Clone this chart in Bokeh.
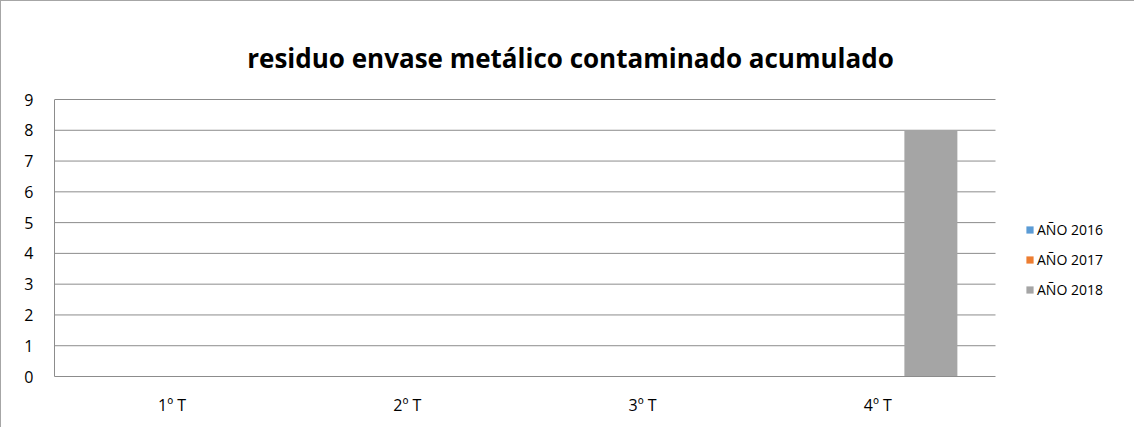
from bokeh.plotting import figure
from bokeh.models import Range1d, Legend, LegendItem, Label, FixedTicker, ColumnDataSource
from bokeh.embed import file_html
from bokeh.resources import INLINE

categories = ["1º T", "2º T", "3º T", "4º T"]
series_names = ["AÑO 2016", "AÑO 2017", "AÑO 2018"]
anio_2016 = [0, 0, 0, 0]
anio_2017 = [0, 0, 0, 0]
anio_2018 = [0, 0, 0, 8]
y_ticks = [0, 1, 2, 3, 4, 5, 6, 7, 8, 9]
colors = ["#5B9BD5", "#ED7D31", "#A5A5A5"]
title_text = "residuo envase metálico contaminado acumulado"

FONT = "Open Sans"
GRID = "#8c8c8c"

# layout (pixels)
W, H = 1134, 427
LEFT, BOTTOM = 54, 51
PX_X = 941 / len(categories)          # pixels per category
PX_Y = 277 / (y_ticks[-1] - y_ticks[0])  # pixels per y unit
frame_w = W - LEFT
frame_h = H - BOTTOM

p = figure(width=W, height=H, output_backend="svg", toolbar_location=None,
           x_range=Range1d(0, frame_w / PX_X), y_range=Range1d(0, frame_h / PX_Y),
           min_border_left=LEFT, min_border_right=0, min_border_top=0, min_border_bottom=BOTTOM)
p.styles = {"box-shadow": "inset 1px 1px 0 #a6a6a6"}
p.outline_line_color = None
p.background_fill_color = None
p.border_fill_color = None
p.grid.visible = False

n = len(categories)
# horizontal gridlines limited to the category span
gl = ColumnDataSource(dict(y=y_ticks[1:]))
p.segment(x0=0, x1=n, y0="y", y1="y", source=gl, line_color=GRID, line_width=1)

centers = [i + 0.5 for i in range(n)]
bw = 53 / PX_X
src = ColumnDataSource(dict(x=centers, a=anio_2016, b=anio_2017, c=anio_2018))
renderers = []
for i, (col, colr) in enumerate(zip(["a", "b", "c"], colors)):
    xs = [c + (i - 1) * bw for c in centers]
    s = ColumnDataSource(dict(x=xs, top=src.data[col]))
    r = p.vbar(x="x", top="top", width=bw, source=s, fill_color=colr, line_color=None)
    renderers.append(r)

legend = Legend(items=[LegendItem(label=nm, renderers=[r]) for nm, r in zip(series_names, renderers)],
                location=(971, 72), orientation="vertical")
legend.background_fill_alpha = 0
legend.border_line_color = None
legend.padding = 0
legend.margin = 0
legend.spacing = 0
legend.glyph_width = 9
legend.glyph_height = 9
legend.label_height = 30
legend.label_standoff = 3
legend.label_text_font = FONT
legend.label_text_font_size = "14px"
legend.label_text_color = "#000000"
p.add_layout(legend, "center")

p.yaxis.ticker = FixedTicker(ticks=y_ticks)
p.yaxis.bounds = (y_ticks[0], y_ticks[-1])
p.yaxis.major_tick_line_color = None
p.yaxis.minor_tick_line_color = None
p.yaxis.major_label_standoff = 15
p.yaxis.axis_line_color = GRID

p.xaxis.ticker = FixedTicker(ticks=centers)
p.xaxis.major_label_overrides = {c: lab for c, lab in zip(centers, categories)}
p.xaxis.bounds = (0, n)
p.xaxis.axis_line_color = GRID
p.xaxis.major_tick_line_color = None
p.xaxis.minor_tick_line_color = None
p.xaxis.major_label_standoff = 11
for ax in (p.xaxis, p.yaxis):
    ax.major_label_text_font = FONT
    ax.major_label_text_font_size = "16px"
    ax.major_label_text_color = "#000000"

title = Label(x=n / 2 + 45.5 / PX_X, y=(frame_h - 57) / PX_Y, text=title_text,
              text_align="center", text_baseline="alphabetic", text_font=FONT,
              text_font_style="bold", text_font_size="26px", text_color="#000000")
p.add_layout(title)

open("out.html", "w").write(file_html(p, INLINE))
